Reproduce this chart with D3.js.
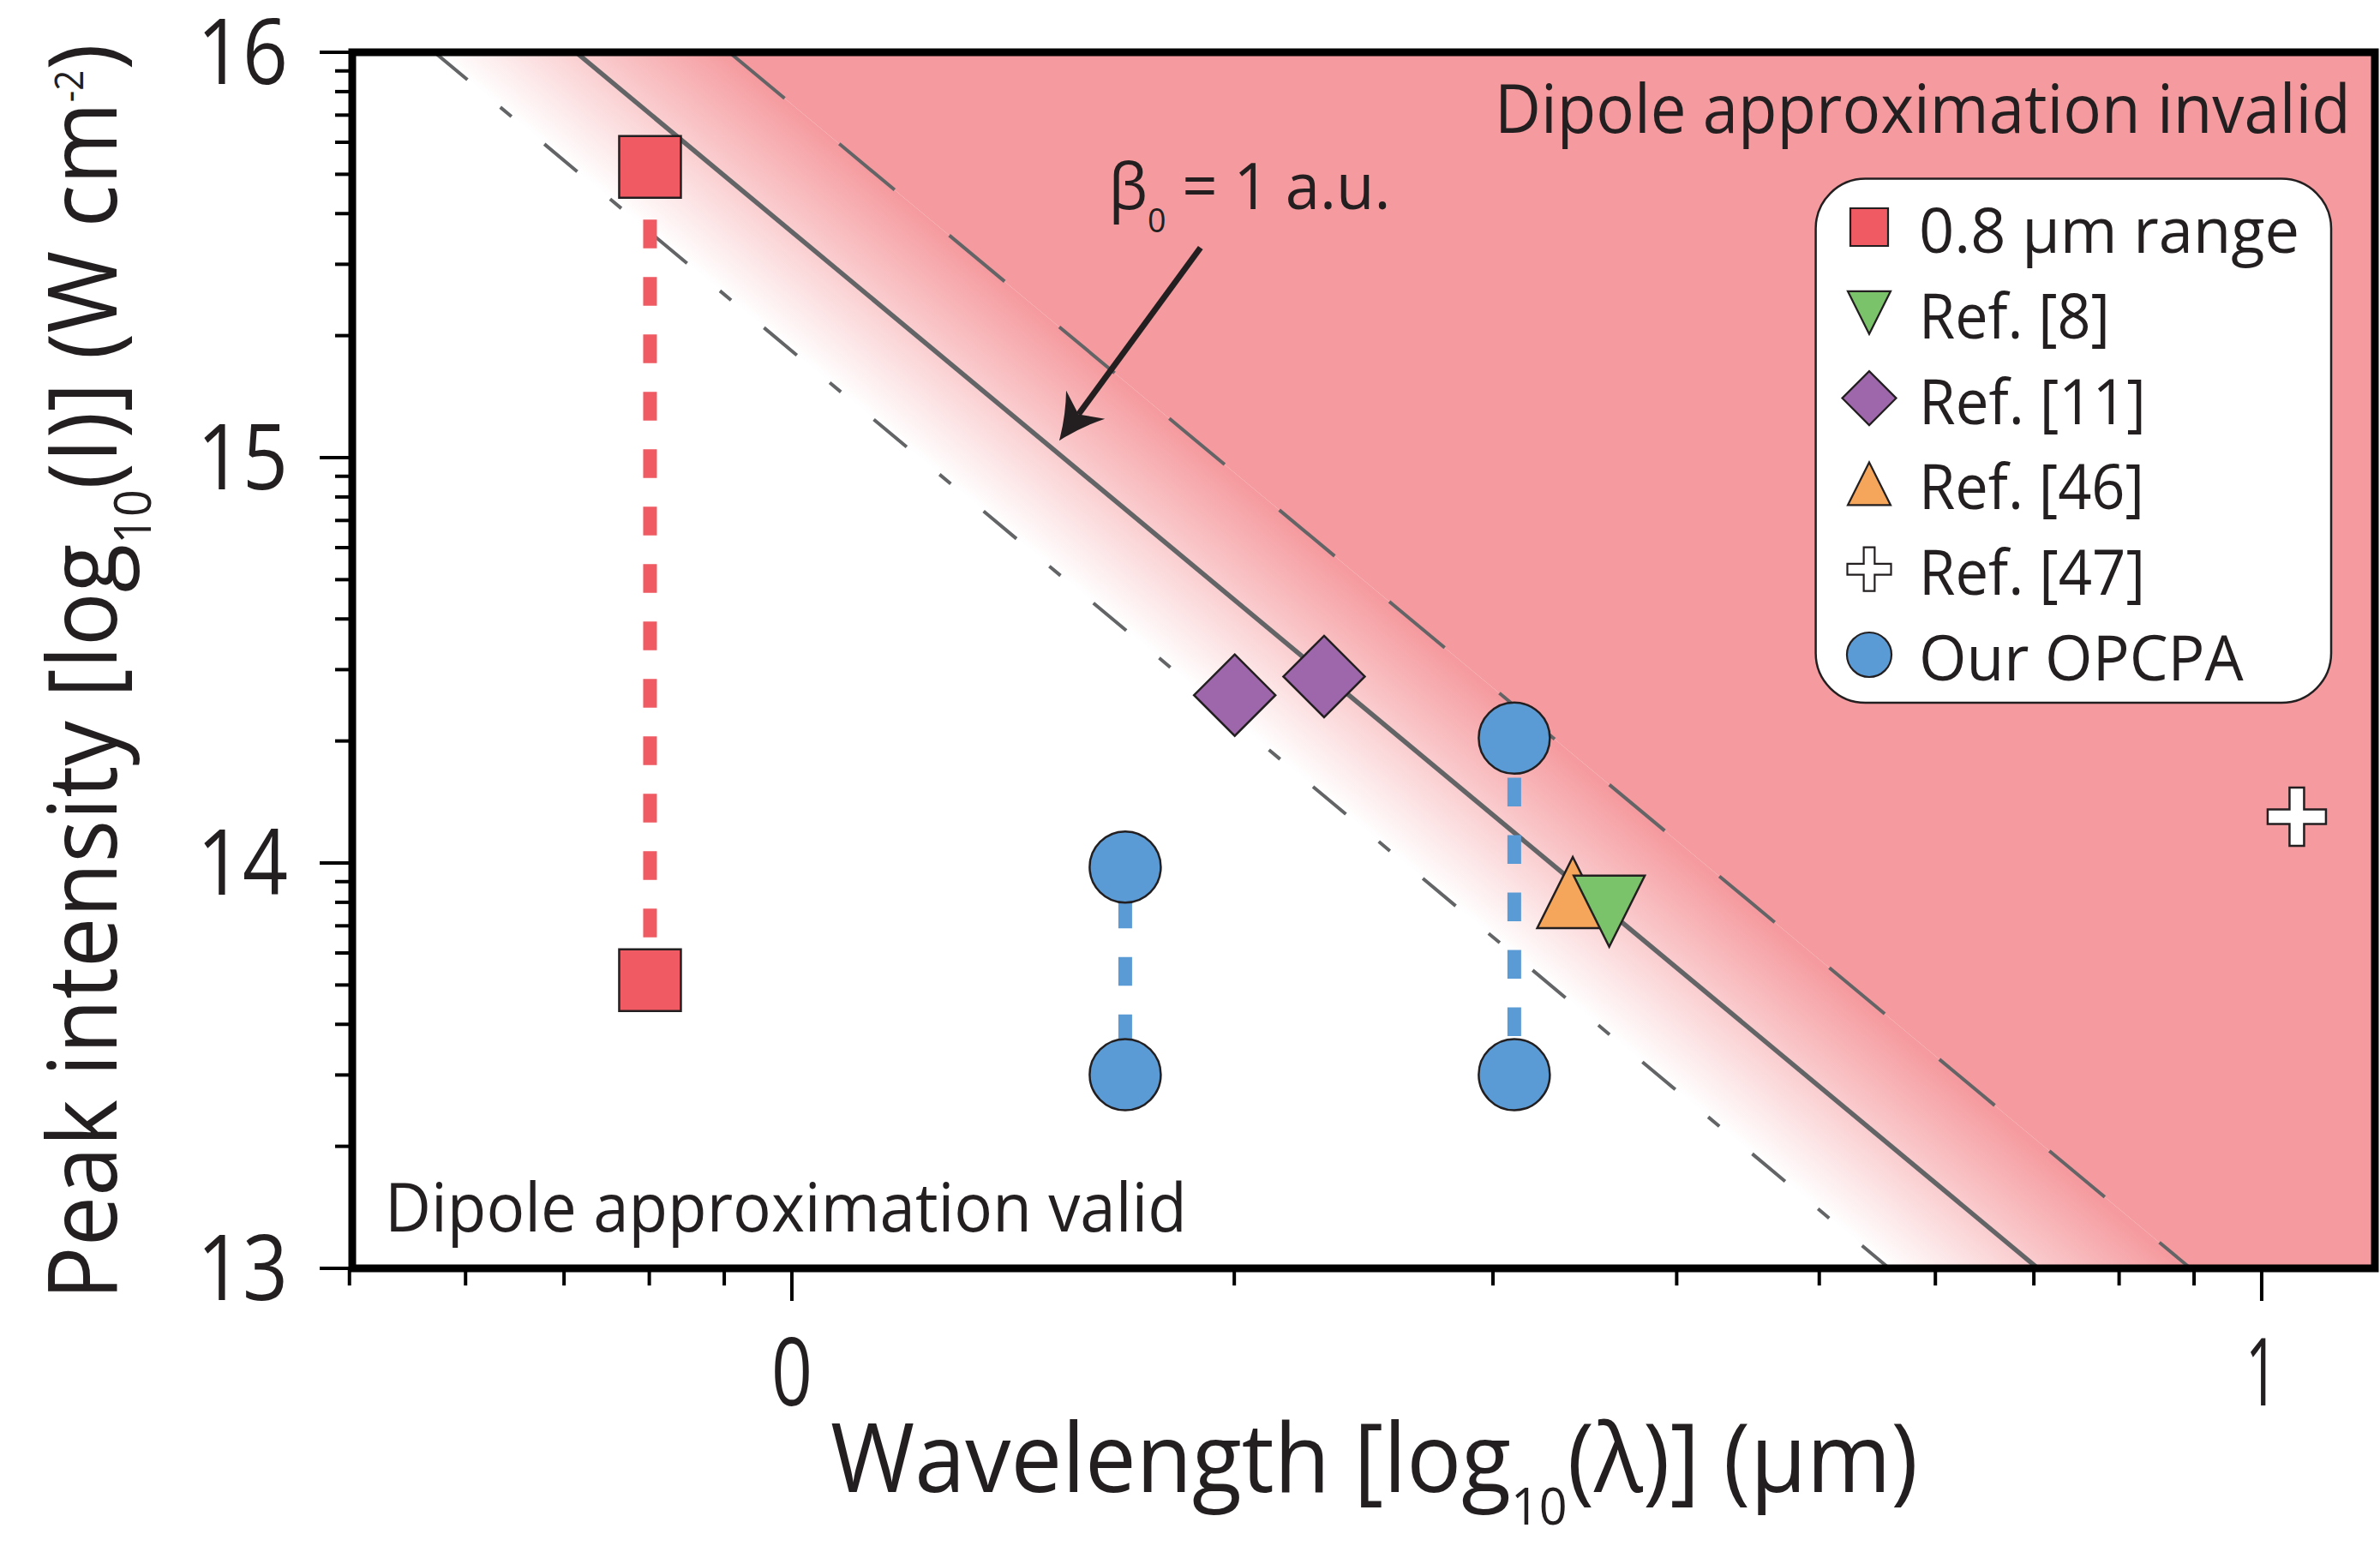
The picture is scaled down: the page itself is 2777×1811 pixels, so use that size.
<!DOCTYPE html>
<html><head><meta charset="utf-8">
<script src="https://cdn.jsdelivr.net/npm/d3@7"></script>
<style>
html,body{margin:0;padding:0;background:#fff;}
svg{display:block;}
text{font-family:'Open Sans',sans-serif;fill:#231f20;}
</style>
</head><body>
<svg id="chart" width="2777" height="1811"></svg>
<script>
// ---------------- data ----------------
const xDomain = [-0.2991, 1.077];          // log10(wavelength / µm)
const yDomain = [13, 16];                  // log10(I / W cm^-2)
const xMajorTicks = [0, 1];
const xTickLabels = ["0", "1"];
const xMinorTicks = [-0.301, -0.222, -0.155, -0.097, -0.046,
                     0.301, 0.477, 0.602, 0.699, 0.778, 0.845, 0.903, 0.954];
const yMajorTicks = [13, 14, 15, 16];
const yTickLabels = ["13", "14", "15", "16"];
const yMinorTicks = [13.301, 13.477, 13.602, 13.699, 13.778, 13.845, 13.903, 13.954,
                     14.301, 14.477, 14.602, 14.699, 14.778, 14.845, 14.903, 14.954,
                     15.301, 15.477, 15.602, 15.699, 15.778, 15.845, 15.903, 15.954];

// beta0 boundary lines (endpoints)
const lowerLine   = [[-0.2431, 16], [0.7466, 13]];   // dash-dot
const centralLine = [[-0.1469, 16], [0.8478, 13]];   // beta0 = 1 a.u.
const upperLine   = [[-0.0426, 16], [0.9516, 13]];   // dashed

// series
const seriesNames = ["0.8 µm range", "Ref. [8]", "Ref. [11]", "Ref. [46]", "Ref. [47]", "Our OPCPA"];
const range08 = [[-0.0965, 15.717], [-0.0965, 13.711]];
const ref8    = [[0.5561, 13.881]];
const ref11   = [[0.3013, 14.414], [0.3621, 14.460]];
const ref46   = [[0.5313, 13.927]];
const ref47   = [[1.0239, 14.114]];
const opcpa   = [[0.2268, 13.990], [0.2268, 13.478], [0.4915, 14.308], [0.4915, 13.478]];

// annotations
const regionLabels = ["Dipole approximation invalid", "Dipole approximation valid"];
const arrowFrom = [0.278, 15.518];
const arrowTo   = [0.1819, 15.042];

// ---------------- drawing ----------------
const svg = d3.select("#chart");
const L = 411, R = 2771, T = 61, B = 1480;
const x = d3.scaleLinear().domain(xDomain).range([L, R]);
const y = d3.scaleLinear().domain(yDomain).range([B, T]);

const PINK = "#f59a9e", GRAY = "#636466", INK = "#231f20";
const colors = {range08:"#f05a62", ref8:"#7ac36a", ref11:"#9e66ab", ref46:"#f6a65b", ref47:"#ffffff", opcpa:"#5b9bd5"};

const defs = svg.append("defs");
defs.append("clipPath").attr("id","plotclip").append("rect")
  .attr("x", L).attr("y", T).attr("width", R-L).attr("height", B-T);

// gradient perpendicular to the lines, from lower line (white) to upper line (pink)
const p1 = [x(lowerLine[0][0]), y(lowerLine[0][1])];
let dv = [x(lowerLine[1][0]) - p1[0], y(lowerLine[1][1]) - p1[1]];
const dl = Math.hypot(dv[0], dv[1]); dv = [dv[0]/dl, dv[1]/dl];
const nv = [dv[1], -dv[0]];
const q = [x(upperLine[0][0]), y(upperLine[0][1])];
const dist = (q[0]-p1[0])*nv[0] + (q[1]-p1[1])*nv[1];
const grad = defs.append("linearGradient").attr("id","band").attr("gradientUnits","userSpaceOnUse")
  .attr("x1", p1[0]).attr("y1", p1[1]).attr("x2", p1[0]+dist*nv[0]).attr("y2", p1[1]+dist*nv[1]);
grad.append("stop").attr("offset", 0).attr("stop-color", "#ffffff");
grad.append("stop").attr("offset", 1).attr("stop-color", PINK);

const plot = svg.append("g").attr("clip-path", "url(#plotclip)");
const poly = pts => "M" + pts.map(p => x(p[0]) + "," + y(p[1])).join("L") + "Z";

plot.append("path").attr("fill", "url(#band)")
  .attr("d", poly([lowerLine[0], upperLine[0], upperLine[1], lowerLine[1]]));
plot.append("path").attr("fill", PINK)
  .attr("d", poly([upperLine[0], [xDomain[1], yDomain[1]], [xDomain[1], yDomain[0]], upperLine[1]]));

const lineGen = d3.line().x(d => x(d[0])).y(d => y(d[1]));
plot.append("path").attr("d", lineGen(lowerLine)).attr("fill","none").attr("stroke",GRAY)
  .attr("stroke-width", 4).attr("stroke-dasharray", "50 50 17 50");
plot.append("path").attr("d", lineGen(centralLine)).attr("fill","none").attr("stroke",GRAY)
  .attr("stroke-width", 5.5);
plot.append("path").attr("d", lineGen(upperLine)).attr("fill","none").attr("stroke",GRAY)
  .attr("stroke-width", 4).attr("stroke-dasharray", "84 83");

// vertical dashed connectors
function connector(a, b, color, offset) {
  plot.append("line").attr("x1", x(a[0])).attr("x2", x(b[0])).attr("y1", y(a[1])).attr("y2", y(b[1]))
    .attr("stroke", color).attr("stroke-width", 16).attr("stroke-dasharray", "33.5 33.5")
    .attr("stroke-dashoffset", offset);
}
connector(range08[0], range08[1], colors.range08, 5.6);
connector(opcpa[0], opcpa[1], colors.opcpa, 29);
connector(opcpa[2], opcpa[3], colors.opcpa, 20.7);

// marker shapes (centered at 0,0)
const shapes = {
  square: s => { const h = s/2; return `M${-h},${-h}H${h}V${h}H${-h}Z`; },
  circle: s => { const r = s/2; return `M${-r},0A${r},${r} 0 1,0 ${r},0A${r},${r} 0 1,0 ${-r},0Z`; },
  diamond: s => { const h = s/2; return `M0,${-h}L${h},0L0,${h}L${-h},0Z`; },
  triUp: s => { const h = s/2; return `M0,${-h}L${h},${h}L${-h},${h}Z`; },
  triDown: s => { const h = s/2; return `M${-h},${-h}L${h},${-h}L0,${h}Z`; },
  cross: s => { const h = s/2, a = s*0.125; return `M${-a},${-h}H${a}V${-a}H${h}V${a}H${a}V${h}H${-a}V${a}H${-h}V${-a}H${-a}Z`; }
};
function markers(data, shape, size, fill) {
  plot.append("g").selectAll("path").data(data).join("path")
    .attr("transform", d => `translate(${x(d[0])},${y(d[1])})`)
    .attr("d", shapes[shape](size)).attr("fill", fill)
    .attr("stroke", INK).attr("stroke-width", 2.5).attr("stroke-linejoin", "miter");
}
markers(range08, "square", 72, colors.range08);
markers(opcpa, "circle", 83, colors.opcpa);
markers(ref11, "diamond", 95, colors.ref11);
markers(ref46, "triUp", 83, colors.ref46);
markers(ref8, "triDown", 83, colors.ref8);
markers(ref47, "cross", 68, colors.ref47);

// frame
svg.append("rect").attr("x", L).attr("y", T).attr("width", R-L).attr("height", B-T)
  .attr("fill", "none").attr("stroke", "#000").attr("stroke-width", 9);

// ticks
const tk = svg.append("g").attr("stroke", "#000").attr("stroke-width", 4);
tk.selectAll(".xmaj").data(xMajorTicks).join("line")
  .attr("x1", d => x(d)).attr("x2", d => x(d)).attr("y1", B).attr("y2", B + 38);
tk.selectAll(".xmin").data(xMinorTicks).join("line")
  .attr("x1", d => x(d)).attr("x2", d => x(d)).attr("y1", B).attr("y2", B + 20);
const tk2 = svg.append("g").attr("stroke", "#000").attr("stroke-width", 4);
tk2.selectAll("line.a").data(yMajorTicks).join("line").attr("class","a")
  .attr("y1", d => y(d)).attr("y2", d => y(d)).attr("x1", L).attr("x2", L - 38);
const tk3 = svg.append("g").attr("stroke", "#000").attr("stroke-width", 4);
tk3.selectAll("line").data(yMinorTicks).join("line")
  .attr("y1", d => y(d)).attr("y2", d => y(d)).attr("x1", L).attr("x2", L - 20);

// text helper: place, then scale horizontally to a target ink width
function label(px, py, anchor, size, parts, targetW, rotate) {
  const g = svg.append("g");
  const t = g.append("text").attr("text-anchor", anchor).attr("font-size", size);
  parts.forEach(p => {
    const ts = t.append("tspan").text(p.t);
    if (p.size) ts.attr("font-size", p.size);
    if (p.dy) ts.attr("dy", p.dy);
  });
  let s = 1;
  if (targetW) { const bb = t.node().getBBox(); s = targetW / bb.width; }
  g.attr("transform", `translate(${px},${py})` + (rotate ? ` rotate(${rotate})` : "") + ` scale(${s},1)`);
  return g;
}

// tick labels
yMajorTicks.forEach((v, i) => label(336, y(v) + 37, "end", 107, [{t: yTickLabels[i]}], 106));
xMajorTicks.forEach((v, i) => label(x(v), 1640, "middle", 110, [{t: xTickLabels[i]}], xTickLabels[i] === "1" ? 38 : 48));

// axis titles
label(969, 1741, "start", 111, [
  {t: "Wavelength [log"}, {t: "10", size: 60, dy: 38}, {t: "(λ)] (µm)", size: 111, dy: -38}
], 1269);
label(136, 784, "middle", 112, [
  {t: "Peak intensity [log"}, {t: "10", size: 60, dy: 40}, {t: "(I)] (W cm", size: 112, dy: -40},
  {t: "-2", size: 45, dy: -39}, {t: ")", size: 112, dy: 39}
], 1466, -90);

// region labels
label(1744, 155, "start", 78, [{t: regionLabels[0]}], 999);
label(449, 1437, "start", 78, [{t: regionLabels[1]}], 936);

// beta label
label(x(0.2155), y(15.613), "start", 75, [
  {t: "β"}, {t: "0", size: 39, dy: 27}, {t: " = 1 a.u.", size: 75, dy: -27}
], 329);

// arrow
(function(){
  const a = [x(arrowFrom[0]), y(arrowFrom[1])], b = [x(arrowTo[0]), y(arrowTo[1])];
  let u = [b[0]-a[0], b[1]-a[1]]; const ul = Math.hypot(u[0], u[1]); u = [u[0]/ul, u[1]/ul];
  const n = [u[1], -u[0]];
  const P = (back, side) => [b[0] - back*u[0] + side*n[0], b[1] - back*u[1] + side*n[1]];
  const notch = P(38, 0);
  svg.append("line").attr("x1", a[0]).attr("y1", a[1]).attr("x2", notch[0]).attr("y2", notch[1])
    .attr("stroke", INK).attr("stroke-width", 7);
  const b1 = P(52, 28), b2 = P(52, -28), c1 = P(28, 11), c2 = P(28, -11);
  svg.append("path").attr("fill", INK)
    .attr("d", `M${b[0]},${b[1]}Q${c1[0]},${c1[1]} ${b1[0]},${b1[1]}L${notch[0]},${notch[1]}L${b2[0]},${b2[1]}Q${c2[0]},${c2[1]} ${b[0]},${b[1]}Z`);
})();

// legend
const lg = svg.append("g");
lg.append("rect").attr("x", 2118.6).attr("y", 208.6).attr("width", 601.4).attr("height", 611.4)
  .attr("rx", 58).attr("ry", 58).attr("fill", "#fff").attr("stroke", INK).attr("stroke-width", 2.5);
const legendItems = [
  {shape: "square", size: 44, fill: colors.range08, w: 444},
  {shape: "triDown", size: 50, fill: colors.ref8, w: 223},
  {shape: "diamond", size: 63, fill: colors.ref11, w: 265},
  {shape: "triUp", size: 50, fill: colors.ref46, w: 263},
  {shape: "cross", size: 51, fill: colors.ref47, w: 264},
  {shape: "circle", size: 52, fill: colors.opcpa, w: 379}
];
legendItems.forEach((it, i) => {
  const cy = 265 + 99.8 * i;
  lg.append("path").attr("transform", `translate(2181,${cy})`).attr("d", shapes[it.shape](it.size))
    .attr("fill", it.fill).attr("stroke", INK).attr("stroke-width", 2.2);
  label(2239, cy + 30, "start", 74, [{t: seriesNames[i]}], it.w);
});
</script>
</body></html>
